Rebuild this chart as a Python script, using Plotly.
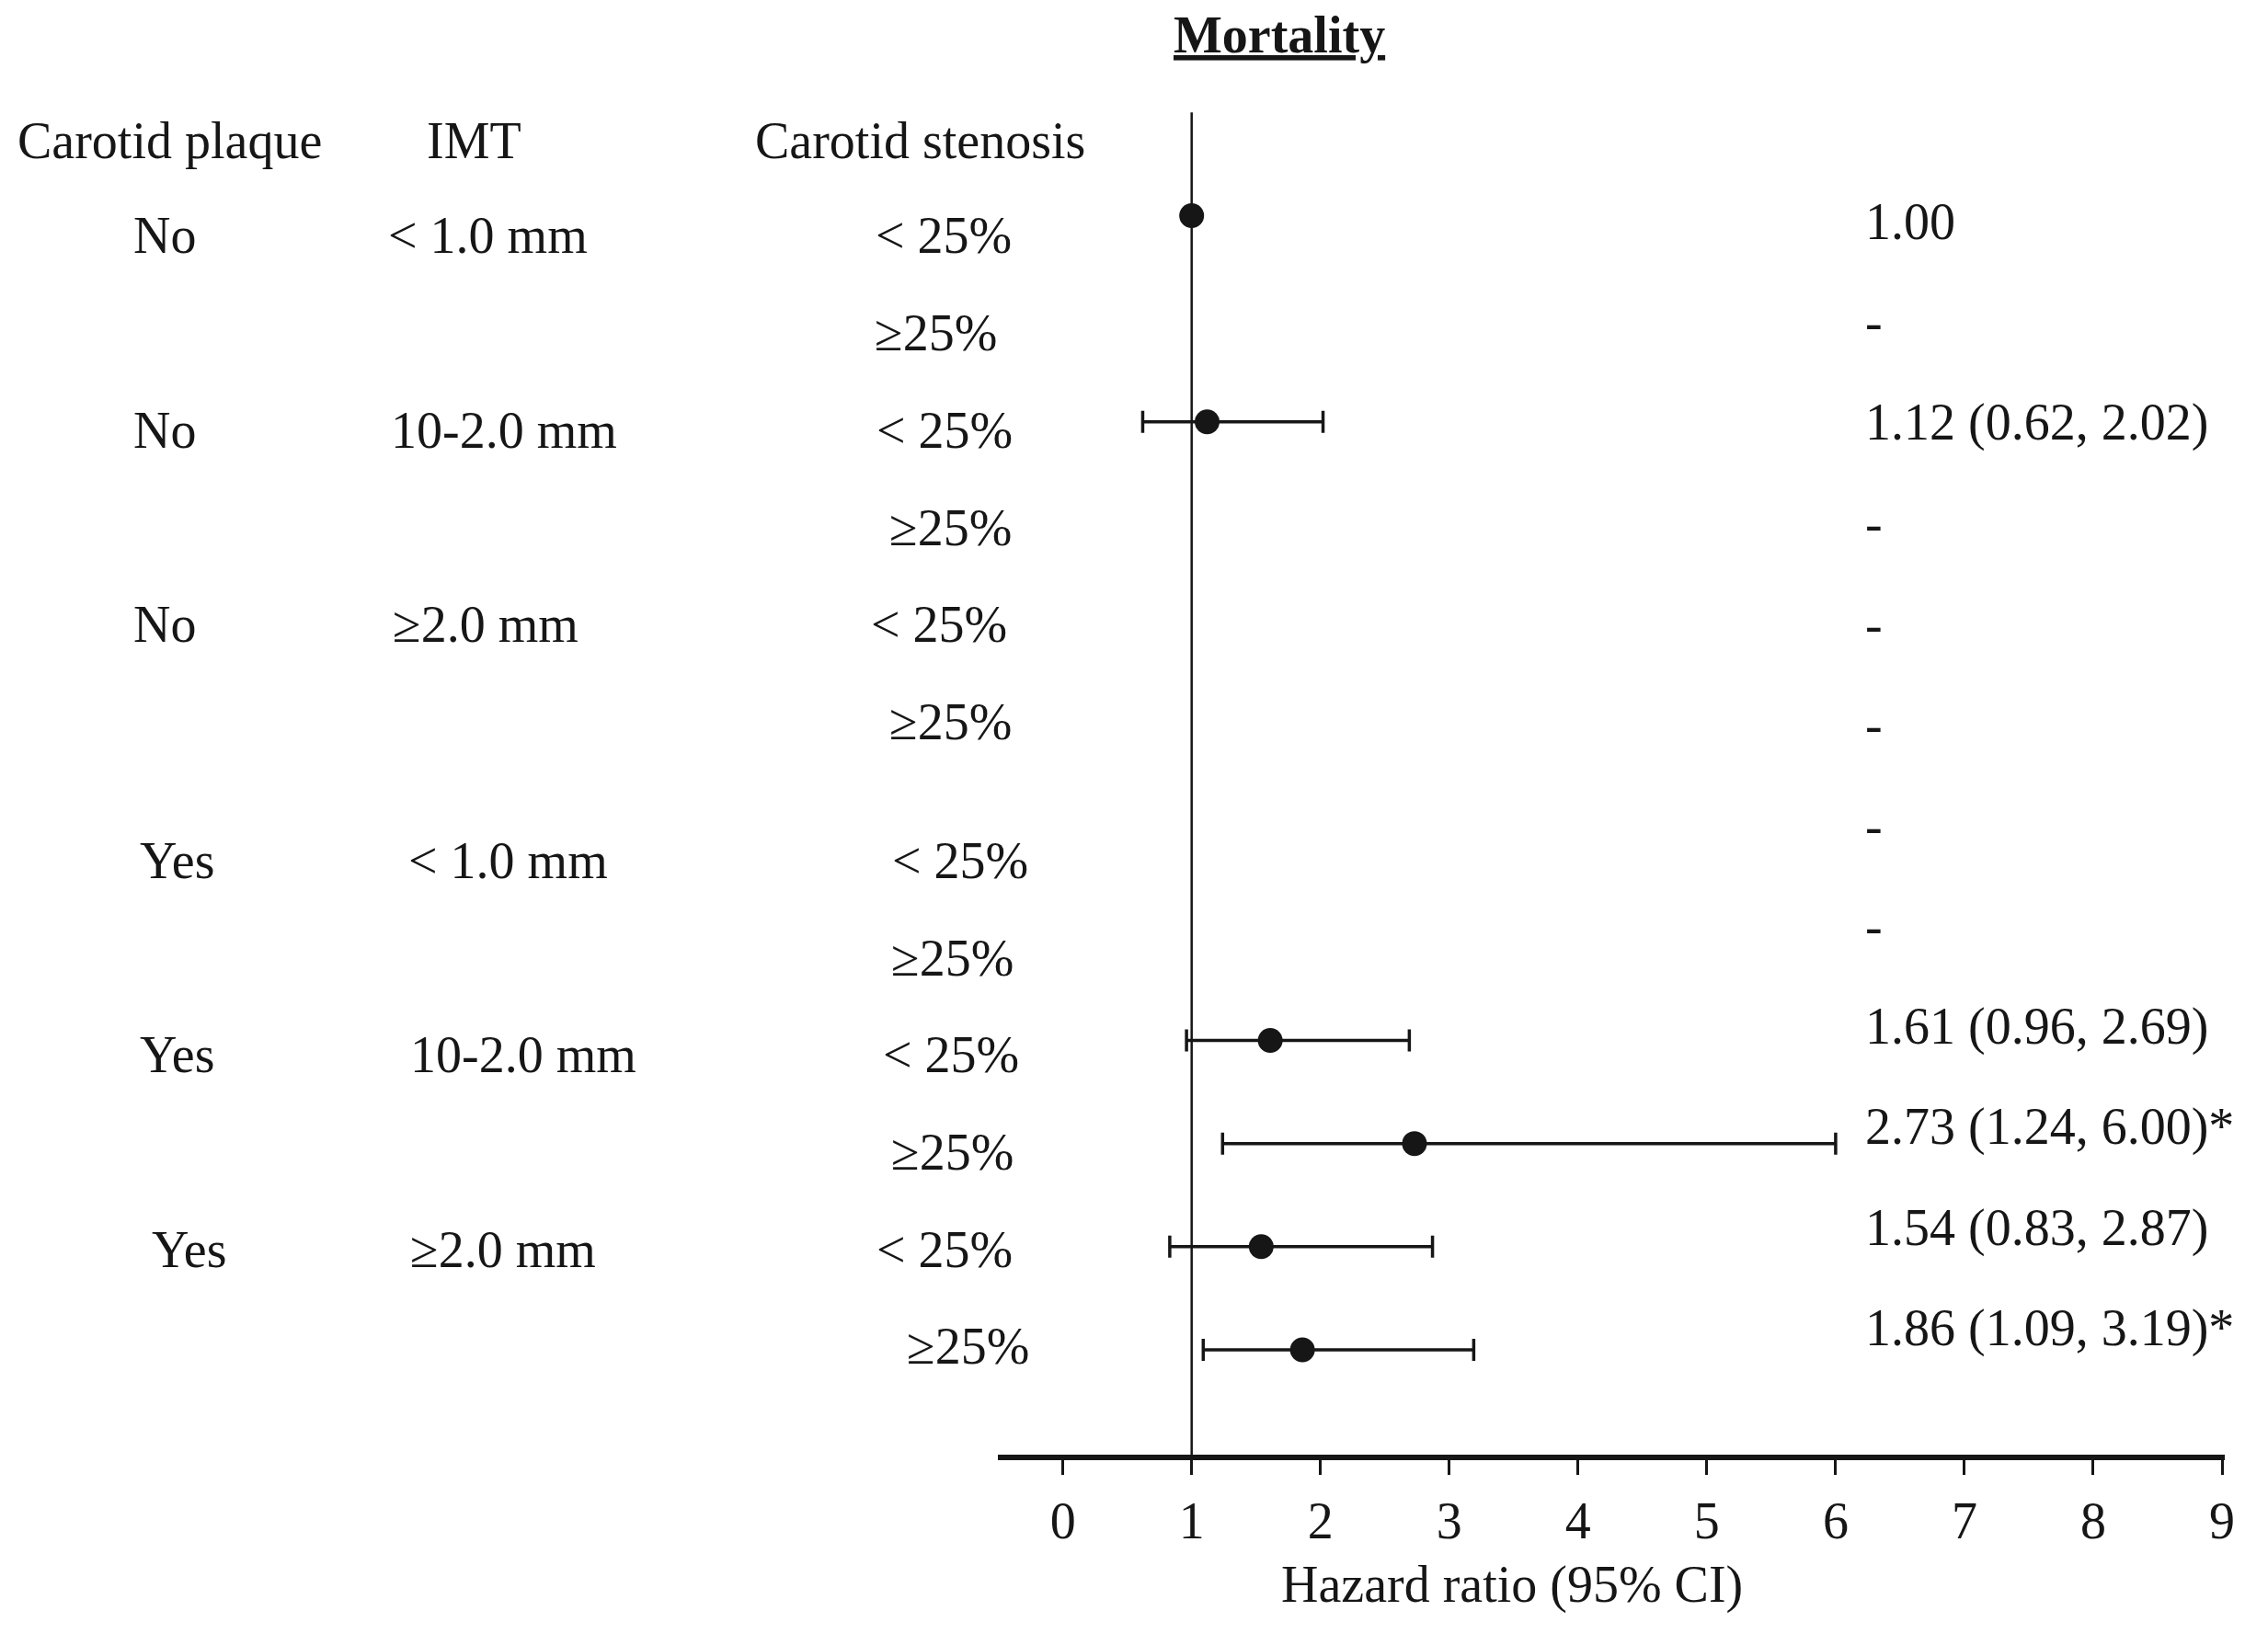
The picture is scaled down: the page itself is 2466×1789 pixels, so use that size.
import plotly.graph_objects as go

# ---------------- data ----------------
plaque = ["No", "", "No", "", "No", "", "Yes", "", "Yes", "", "Yes", ""]
imt = ["< 1.0 mm", "", "10-2.0 mm", "", "≥2.0 mm", "", "< 1.0 mm", "", "10-2.0 mm", "", "≥2.0 mm", ""]
stenosis = ["< 25%", "≥25%", "< 25%", "≥25%", "< 25%", "≥25%",
            "< 25%", "≥25%", "< 25%", "≥25%", "< 25%", "≥25%"]
hr = [1.00, None, 1.12, None, None, None, None, None, 1.61, 2.73, 1.54, 1.86]
ci_low = [None, None, 0.62, None, None, None, None, None, 0.96, 1.24, 0.83, 1.09]
ci_high = [None, None, 2.02, None, None, None, None, None, 2.69, 6.00, 2.87, 3.19]
hr_text = ["1.00", "-", "1.12 (0.62, 2.02)", "-", "-", "-", "-", "-",
           "1.61 (0.96, 2.69)", "2.73 (1.24, 6.00)*", "1.54 (0.83, 2.87)", "1.86 (1.09, 3.19)*"]
headers = ["Carotid plaque", "IMT", "Carotid stenosis"]
x_ticks = list(range(0, 10))

# ---------------- layout helpers ----------------
W, H = 2466, 1789
K = W / 1568.0            # reference sketch units -> figure pixels
DY = -5                   # vertical correction (sketch units)
DX = -4                   # horizontal correction for the left table
AX_BOTTOM = (1007 + DY - 1) * K
ROW0 = (148 + DY + 1) * K
ROWH = 71.3 * K
FONT = "Liberation Serif"
FS = 56
INK = "#161616"


def px(xd):
    return xd * K / W


def py(yd):
    return 1 - (yd + DY) * K / H


y_top = -ROW0 / ROWH
y_bot = (AX_BOTTOM - ROW0) / ROWH

fig = go.Figure()

rows_ci = [i for i in range(len(hr)) if hr[i] is not None and ci_low[i] is not None]
fig.add_trace(go.Scatter(
    x=[hr[i] for i in rows_ci],
    y=rows_ci,
    mode="markers",
    marker=dict(size=27, color=INK),
    error_x=dict(type="data", symmetric=False,
                 array=[ci_high[i] - hr[i] for i in rows_ci],
                 arrayminus=[hr[i] - ci_low[i] for i in rows_ci],
                 color=INK, thickness=3.5, width=12),
    showlegend=False, hoverinfo="skip"))

rows_ref = [i for i in range(len(hr)) if hr[i] is not None and ci_low[i] is None]
fig.add_trace(go.Scatter(
    x=[hr[i] for i in rows_ref], y=rows_ref, mode="markers",
    marker=dict(size=27, color=INK), showlegend=False, hoverinfo="skip"))

fig.add_shape(type="line", xref="x", yref="y", x0=1, x1=1, y0=-1.0, y1=y_bot,
              line=dict(color=INK, width=2.5), layer="below")

ann = []
ann.append(dict(text="<b><u>Mortality</u></b>", x=px(883), y=py(24), xref="paper", yref="paper",
                showarrow=False, xanchor="center", yanchor="middle",
                font=dict(family=FONT, size=FS, color=INK)))
for h, xc in zip(headers, [117 + DX, 328 + DX, 636 + DX / 2]):
    ann.append(dict(text=h, x=px(xc), y=py(97), xref="paper", yref="paper", showarrow=False,
                    xanchor="center", yanchor="middle", font=dict(family=FONT, size=FS, color=INK)))

plaque_x = [113, 0, 113, 0, 113, 0, 122, 0, 122, 0, 130, 0]
imt_x = [338, 0, 349, 0, 336, 0, 352, 0, 362, 0, 348, 0]
sten_x = [652, 647, 653, 657, 649, 657, 664, 658, 657, 658, 653, 669]
for i in range(len(stenosis)):
    yd = 163 + 67.2 * i if i < 6 else 595 + 67.2 * (i - 6)
    for txt, xc in ((plaque[i], plaque_x[i] + DX), (imt[i], imt_x[i] + DX), (stenosis[i], sten_x[i] - 2)):
        if txt:
            ann.append(dict(text=txt, x=px(xc), y=py(yd), xref="paper", yref="paper",
                            showarrow=False, xanchor="center", yanchor="middle",
                            font=dict(family=FONT, size=FS, color=INK)))

for i, t in enumerate(hr_text):
    yd = 153 + 69.6 * i
    ann.append(dict(text=t, x=px(1289), y=py(yd), xref="paper", yref="paper",
                    showarrow=False, xanchor="left", yanchor="middle",
                    font=dict(family=FONT, size=FS, color=INK)))

ann.append(dict(text="Hazard ratio (95% CI)", x=px(1045), y=py(1096), xref="paper", yref="paper",
                showarrow=False, xanchor="center", yanchor="middle",
                font=dict(family=FONT, size=FS, color=INK)))

x0_pix = 733 * K
unit = (1538 - 733) * K / 9
dom_l, dom_r = 688 * K, 1540 * K

fig.update_layout(
    width=W, height=H,
    margin=dict(l=0, r=0, t=0, b=0),
    paper_bgcolor="white", plot_bgcolor="white",
    annotations=ann,
    xaxis=dict(domain=[dom_l / W, dom_r / W],
               range=[(dom_l - x0_pix) / unit, (dom_r - x0_pix) / unit],
               tickvals=x_ticks, ticktext=[str(v) for v in x_ticks],
               showline=True, linewidth=6, linecolor=INK,
               ticks="outside", ticklen=16, tickwidth=2.5, tickcolor=INK,
               ticklabelstandoff=2,
               showgrid=False, zeroline=False,
               tickfont=dict(family=FONT, size=FS, color=INK)),
    yaxis=dict(domain=[1 - AX_BOTTOM / H, 1], range=[y_bot, y_top], visible=False,
               showgrid=False, zeroline=False),
)

fig.write_html("out.html")
